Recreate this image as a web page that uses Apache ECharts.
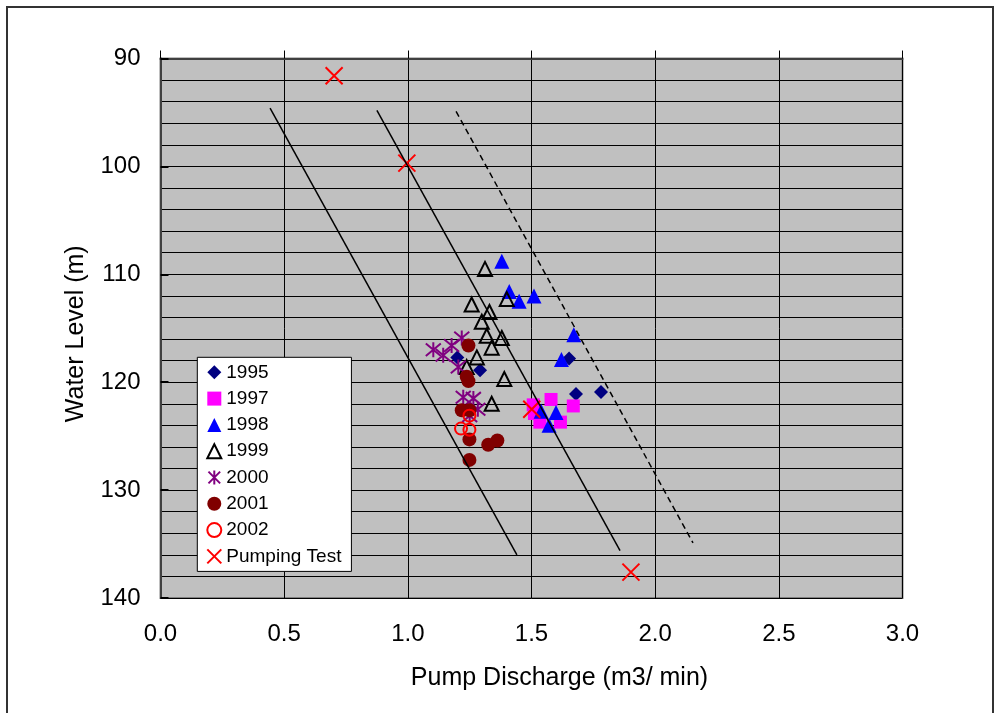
<!DOCTYPE html>
<html>
<head>
<meta charset="utf-8">
<script src="https://cdn.jsdelivr.net/npm/echarts@6/dist/echarts.min.js"></script>
<style>
html,body{margin:0;padding:0;background:#fff;}
#chart{width:1000px;height:713px;}
</style>
</head>
<body>
<div id="chart"></div>
<script>
// ---- data ----
const xTicks = [0, 0.5, 1.0, 1.5, 2.0, 2.5, 3.0];
const yTicks = [90, 100, 110, 120, 130, 140];
const s1995 = [[1.200,117.7],[1.292,118.9],[1.652,117.8],[1.680,121.1],[1.781,120.9]];
const s1997 = [[1.507,122.1],[1.579,121.6],[1.669,122.2],[1.512,122.9],[1.534,123.7],[1.617,123.7]];
const s1998 = [[1.380,108.8],[1.410,111.6],[1.450,112.5],[1.510,112.0],[1.671,115.6],[1.621,117.9],[1.539,122.7],[1.599,122.8],[1.571,124.0]];
const s1999 = [[1.312,109.5],[1.258,112.8],[1.330,113.5],[1.400,112.3],[1.299,114.4],[1.319,115.7],[1.380,115.9],[1.339,116.8],[1.279,117.7],[1.238,118.6],[1.390,119.7],[1.339,122.0]];
const s2000 = [[1.103,117.0],[1.143,117.5],[1.177,116.6],[1.218,115.9],[1.204,118.6],[1.224,121.4],[1.265,121.5],[1.283,122.5],[1.250,123.1]];
const s2001 = [[1.245,116.6],[1.238,119.5],[1.245,119.9],[1.218,122.6],[1.249,122.6],[1.249,125.3],[1.325,125.8],[1.362,125.4],[1.249,127.2]];
const s2002 = [[1.249,123.1],[1.215,124.3],[1.249,124.4]];
const pumpTest = [[0.702,91.6],[0.996,99.7],[1.501,122.5],[1.902,137.6]];
const trend1 = [[0.443,94.6],[1.441,136.0]];
const trend2 = [[0.875,94.8],[1.858,135.6]];
const trend3 = [[1.195,94.9],[2.153,134.9]];

const FONT = 'Liberation Sans';
const starPath = 'path://M0,0L10,10M0,10L10,0M5,-1L5,11';
const xPath = 'path://M0,0L10,10M0,10L10,0';

const chart = echarts.init(document.getElementById('chart'), null, {renderer:'canvas'});
const option = {
  backgroundColor: '#ffffff',
  animation: false,
  textStyle: {fontFamily: FONT},
  graphic: [{
    type: 'rect', shape: {x: 7, y: 7, width: 986, height: 720},
    style: {fill: 'none', stroke: '#333333', lineWidth: 2}, z: -10
  }],
  grid: {
    left: 160.5, right: 97.5, top: 58.5, bottom: 115,
    show: true, backgroundColor: '#c0c0c0', borderColor: '#808080', borderWidth: 2
  },
  legend: {
    orient: 'vertical', left: 197.3, top: 357.3,
    backgroundColor: '#ffffff', borderColor: '#000000', borderWidth: 1,
    padding: [5, 10, 5, 9], itemWidth: 14, itemHeight: 14, itemGap: 6.3,
    textStyle: {fontFamily: FONT, fontSize: 19, color: '#000', lineHeight: 20},
    data: ['1995','1997','1998','1999','2000','2001','2002','Pumping Test']
  },
  xAxis: [{
    type: 'value', min: 0, max: 3, interval: 0.5, position: 'bottom',
    name: 'Pump Discharge (m3/ min)', nameLocation: 'middle', nameGap: 68,
    nameTextStyle: {fontFamily: FONT, fontSize: 25, color: '#000', padding: [0, 0, 0, 56]},
    axisLine: {show: false}, axisTick: {show: false},
    axisLabel: {fontFamily: FONT, fontSize: 24, color: '#000', margin: 24,
      formatter: v => v.toFixed(1)},
    splitLine: {show: true, lineStyle: {color: '#000000', width: 1}}
  }, {
    type: 'value', min: 0, max: 3, interval: 0.5, position: 'top',
    axisLine: {show: true, onZero: false, lineStyle: {color: '#404040', width: 2}},
    axisTick: {show: true, length: 8, lineStyle: {color: '#000', width: 1}},
    axisLabel: {show: false}, splitLine: {show: false}
  }],
  yAxis: [{
    type: 'value', min: 90, max: 140, interval: 10, inverse: true,
    name: 'Water Level (m)', nameLocation: 'middle', nameGap: 72,
    nameTextStyle: {fontFamily: FONT, fontSize: 25, color: '#000', padding: [0, 11, 0, 0]},
    axisLine: {show: true, onZero: false, lineStyle: {color: '#404040', width: 2}},
    axisTick: {show: true, inside: true, length: 8, lineStyle: {color: '#000', width: 2}},
    axisLabel: {fontFamily: FONT, fontSize: 24, color: '#000', margin: 20},
    splitLine: {show: true, lineStyle: {color: '#000000', width: 1}},
    minorTick: {show: false, splitNumber: 5},
    minorSplitLine: {show: true, lineStyle: {color: '#000000', width: 1}}
  }],
  series: [
    {name:'1995', type:'scatter', data:s1995, symbol:'diamond', symbolSize:14,
      itemStyle:{color:'#000080', opacity:1}},
    {name:'1997', type:'scatter', data:s1997, symbol:'rect', symbolSize:13,
      itemStyle:{color:'#ff00ff', opacity:1}},
    {name:'1998', type:'scatter', data:s1998, symbol:'triangle', symbolSize:15,
      itemStyle:{color:'#0000ff', opacity:1}},
    {name:'1999', type:'scatter', data:s1999, symbol:'triangle', symbolSize:14,
      itemStyle:{color:'transparent', borderColor:'#000000', borderWidth:2, opacity:1}},
    {name:'2000', type:'scatter', data:s2000, symbol:starPath, symbolSize:15,
      itemStyle:{color:'transparent', borderColor:'#800080', borderWidth:2, opacity:1}},
    {name:'2001', type:'scatter', data:s2001, symbol:'circle', symbolSize:14,
      itemStyle:{color:'#800000', opacity:1}},
    {name:'2002', type:'scatter', data:s2002, symbol:'circle', symbolSize:12,
      itemStyle:{color:'transparent', borderColor:'#ff0000', borderWidth:2, opacity:1}},
    {name:'Pumping Test', type:'scatter', data:pumpTest, symbol:xPath, symbolSize:17,
      itemStyle:{color:'transparent', borderColor:'#ff0000', borderWidth:2, opacity:1}},
    {name:'trend1', type:'line', data:trend1, symbol:'none', z:5,
      lineStyle:{color:'#000', width:1.5}},
    {name:'trend2', type:'line', data:trend2, symbol:'none', z:5,
      lineStyle:{color:'#000', width:1.5}},
    {name:'trend3', type:'line', data:trend3, symbol:'none', z:5,
      lineStyle:{color:'#000', width:1.5, type:[6,4]}}
  ]
};
chart.setOption(option);
</script>
</body>
</html>
